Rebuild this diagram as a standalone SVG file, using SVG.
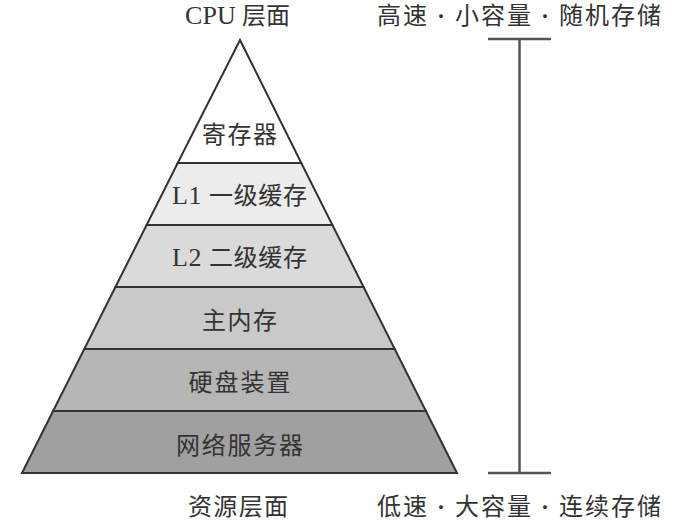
<svg xmlns="http://www.w3.org/2000/svg" width="684" height="527" viewBox="0 0 684 527">
<style>
  .layer { stroke: #333333; stroke-width: 2; stroke-linejoin: miter; }
  .lbl { font-family: "Liberation Serif", "Noto Sans CJK SC", serif; font-size: 24px; fill: #333333; }
  .lat { font-size: 26px; }
  .dot { font-weight: bold; }
  .mid { text-anchor: middle; }
  .bar { stroke: #555555; stroke-width: 2.5; fill: none; }
</style>
<rect width="684" height="527" fill="#ffffff"/>
<g id="layer-register">
  <polygon class="layer" fill="#ffffff" points="240,40 301.3,163 177.7,163"/>
  <text class="lbl mid" x="239.5" y="143" textLength="75" lengthAdjust="spacing">寄存器</text>
</g>
<g id="layer-l1">
  <polygon class="layer" fill="#ececec" points="177.7,163 301.3,163 332.4,225 146.6,225"/>
  <text class="lbl mid" x="239.5" y="204" textLength="135" lengthAdjust="spacing"><tspan class="lat">L1</tspan> 一级缓存</text>
</g>
<g id="layer-l2">
  <polygon class="layer" fill="#dadada" points="146.6,225 332.4,225 363.6,287 115.4,287"/>
  <text class="lbl mid" x="239.5" y="266" textLength="135" lengthAdjust="spacing"><tspan class="lat">L2</tspan> 二级缓存</text>
</g>
<g id="layer-memory">
  <polygon class="layer" fill="#c9c9c9" points="115.4,287 363.6,287 394.7,349 84.3,349"/>
  <text class="lbl mid" x="239.5" y="328.5" textLength="75" lengthAdjust="spacing">主内存</text>
</g>
<g id="layer-disk">
  <polygon class="layer" fill="#b6b6b6" points="84.3,349 394.7,349 425.9,411 53.1,411"/>
  <text class="lbl mid" x="239.5" y="391" textLength="102" lengthAdjust="spacing">硬盘装置</text>
</g>
<g id="layer-network">
  <polygon class="layer" fill="#a0a0a0" points="53.1,411 425.9,411 457,473 22,473"/>
  <text class="lbl mid" x="239.5" y="454" textLength="127" lengthAdjust="spacing">网络服务器</text>
</g>
<g id="connectors">
  <line class="bar" x1="519.5" y1="39" x2="519.5" y2="473"/>
  <line class="bar" x1="488" y1="39" x2="551" y2="39"/>
  <line class="bar" x1="488" y1="473" x2="551" y2="473"/>
</g>
<g id="labels">
  <text class="lbl" x="185" y="24" textLength="105" lengthAdjust="spacing"><tspan class="lat">CPU</tspan> 层面</text>
  <text class="lbl" x="377" y="24" textLength="284" lengthAdjust="spacing">高速<tspan class="dot"> · </tspan>小容量<tspan class="dot"> · </tspan>随机存储</text>
  <text class="lbl" x="188" y="515" textLength="100" lengthAdjust="spacing">资源层面</text>
  <text class="lbl" x="377" y="515" textLength="284" lengthAdjust="spacing">低速<tspan class="dot"> · </tspan>大容量<tspan class="dot"> · </tspan>连续存储</text>
</g>
</svg>
